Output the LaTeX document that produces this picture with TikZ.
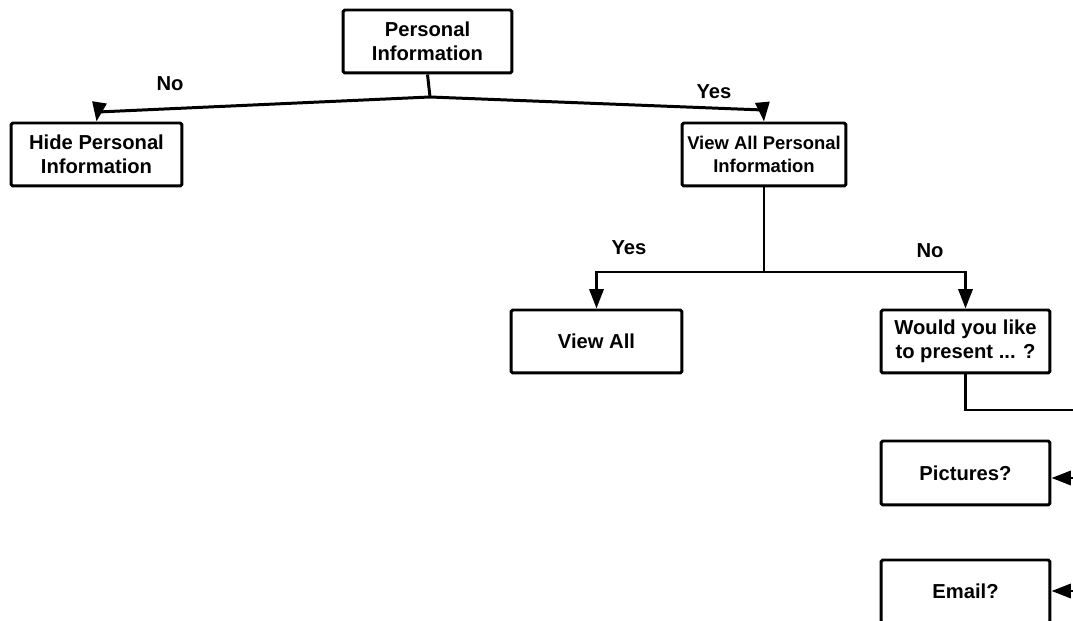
\documentclass[tikz,border=0pt]{standalone}
\usepackage{fontspec}
\setmainfont{Liberation Sans}
\usetikzlibrary{arrows.meta,calc}

\tikzset{
  qbox/.style={draw, line width=1.7pt, rounded corners=1pt, align=center,
    minimum width=3.38cm, minimum height=1.26cm, inner sep=1pt,
    font=\bfseries\fontsize{11.5}{13.5}\selectfont},
  flow/.style={line width=1.7pt, -{Triangle[length=11pt,width=8pt]}},
  link/.style={line width=1.7pt},
  answer/.style={font=\bfseries\fontsize{11.5}{13.5}\selectfont}
}

\begin{document}
\begin{tikzpicture}[x=0.02cm, y=-0.02cm]
        \useasboundingbox (0,0) rectangle (1073,621);
        \clip (0,0) rectangle (1073,621);

        % boxes
        \node[qbox] (pinfo) at (427.5, 41.5) {Personal\\Information};
        \node[qbox, minimum width=3.42cm] (hide) at (96.5, 154.5) {Hide Personal\\Information};
        \node[qbox, minimum width=3.28cm, font=\bfseries\fontsize{10.5}{13.5}\selectfont] (viewpi) at (764, 154.5) {View All Personal\\Information};
        \node[qbox, minimum width=3.42cm] (viewall) at (596.5, 341.5) {View All};
        \node[qbox] (would) at (965.5, 341.5) {Would you like\\to present ... ?};
        \node[qbox, minimum height=1.28cm] (pics) at (965.5, 473) {Pictures?};
        \node[qbox] (email) at (965.5, 591.5) {Email?};

        % junctions and ends off the right edge
        \coordinate (pj) at (430, 97);
        \coordinate (vj) at (764, 272);
        \coordinate (outwould) at (1100, 410);
        \coordinate (inpics) at (1100, 478);
        \coordinate (inemail) at (1100, 591);

        % connectors
        \draw[link] (pinfo.south) -- (pj);
        \draw[flow] (pj) -- (98, 112) -- (hide.north);
        \draw[flow] (pj) -- (763, 110) -- (viewpi.north);
        \draw[link] (viewpi.south) -- (vj);
        \draw[flow] (vj) -| (viewall.north);
        \draw[flow] (vj) -| (would.north);
        \draw[link] (would.south) |- (outwould);
        \draw[flow] (inpics) -- (inpics -| pics.east);
        \draw[flow] (inemail) -- (inemail -| email.east);

        % answers
        \node[answer] (no1) at (170, 84) {No};
        \node[answer] (yes1) at (714, 92) {Yes};
        \node[answer] (yes2) at (629, 248) {Yes};
        \node[answer] (no2) at (930, 251) {No};
\end{tikzpicture}
\end{document}
